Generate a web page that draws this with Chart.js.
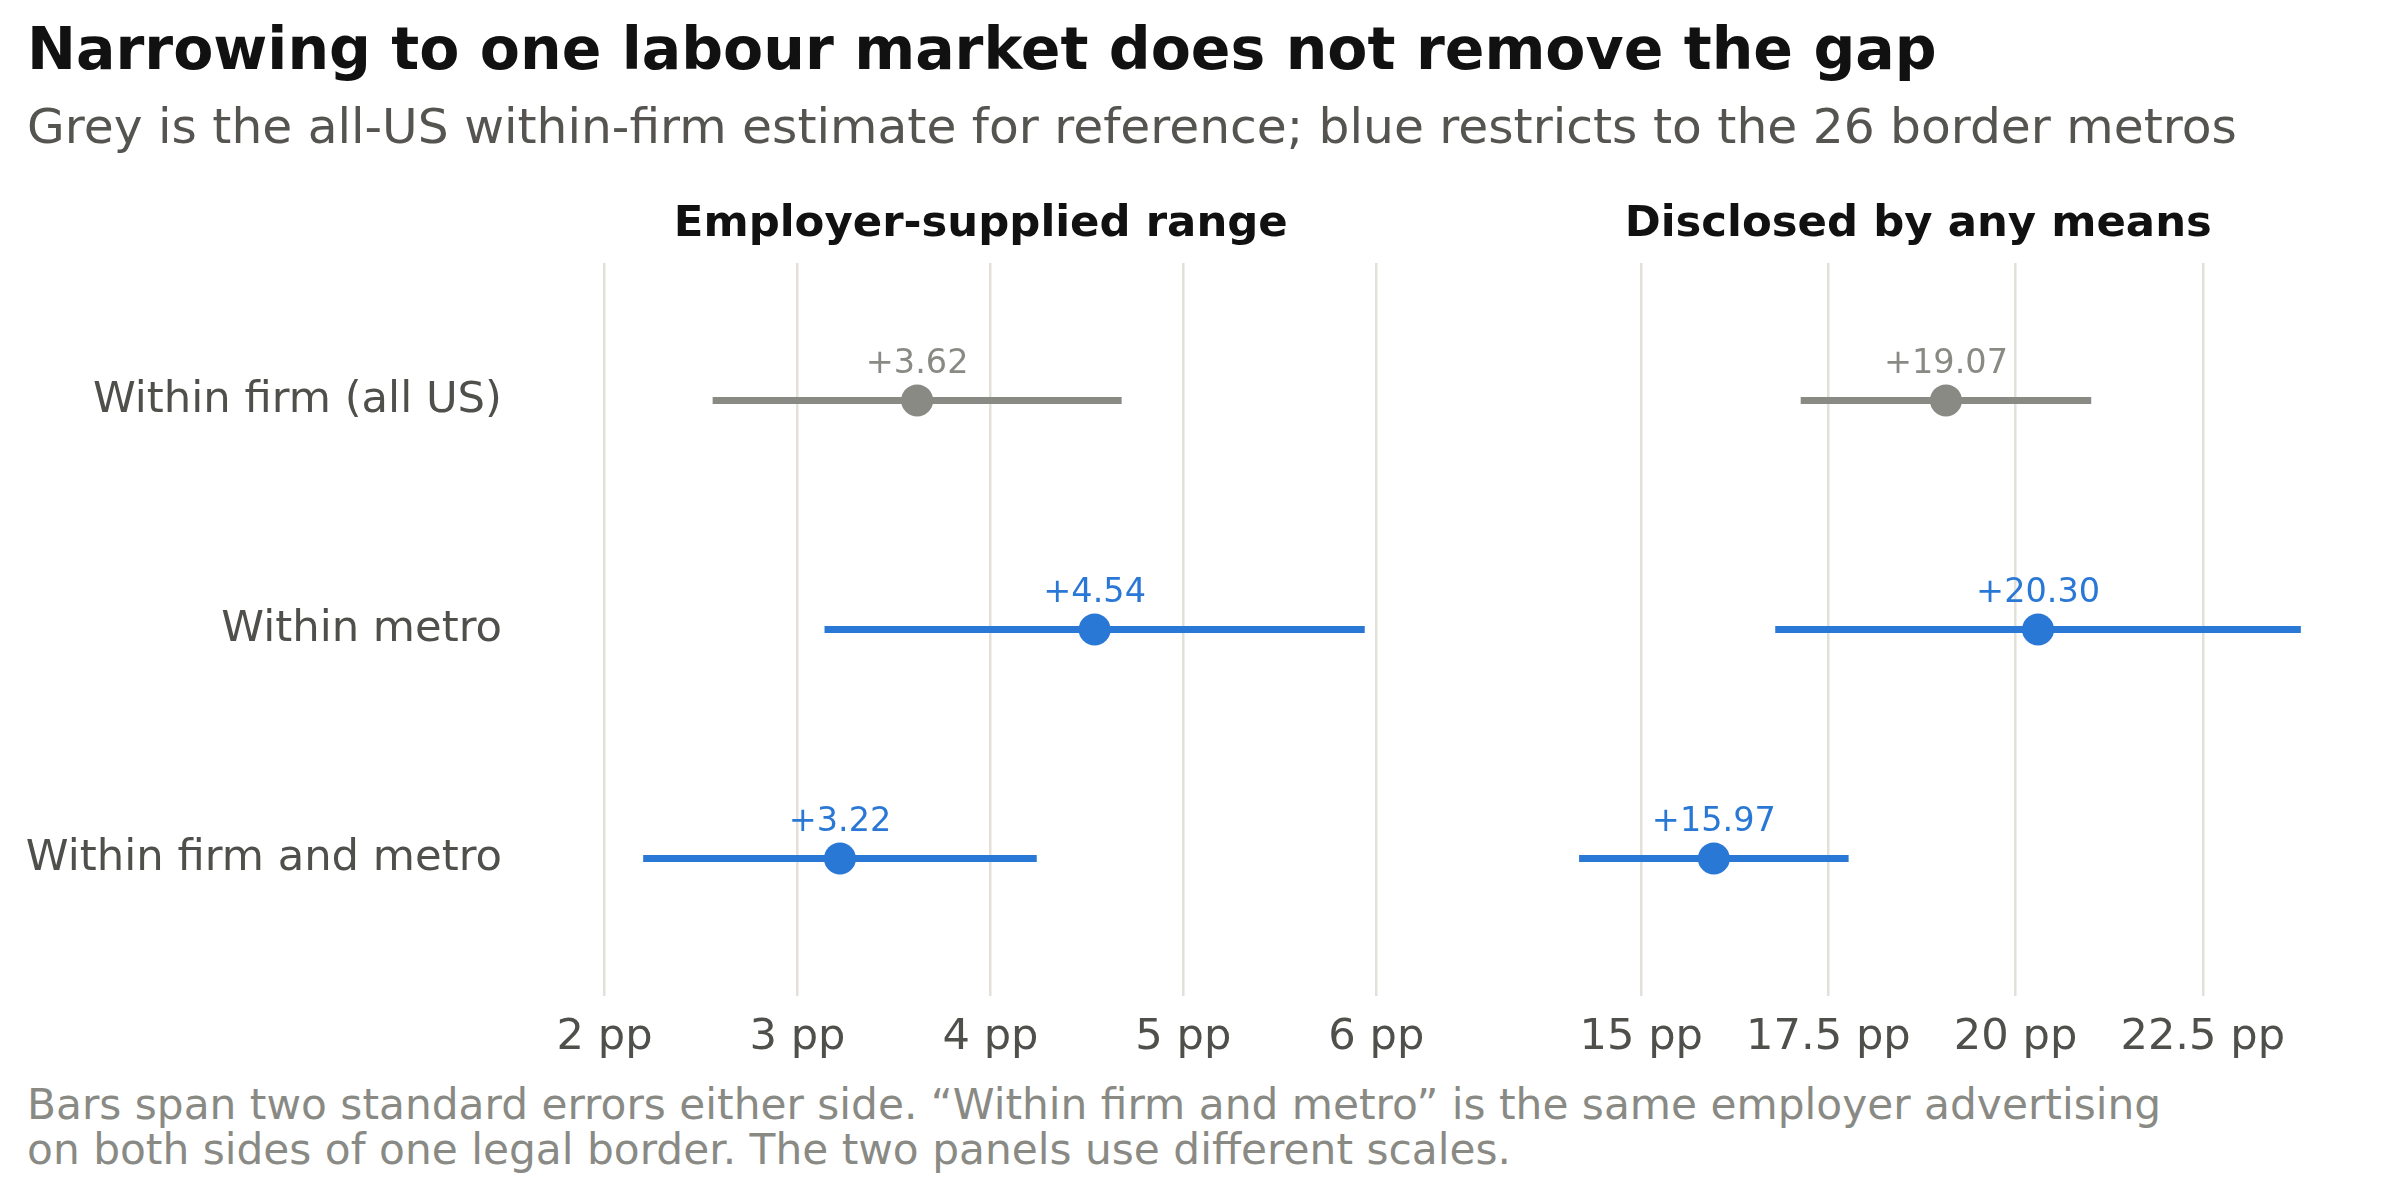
<!DOCTYPE html>
<html>
<head>
<meta charset="utf-8">
<script src="https://cdn.jsdelivr.net/npm/chart.js@4.4.1/dist/chart.umd.min.js"></script>
<style>
  body { margin: 0; background: #fff; font-family: 'DejaVu Sans', sans-serif; }
  #page { position: relative; width: 2400px; height: 1200px; overflow: hidden; }
  .txt { position: absolute; left: 27px; white-space: nowrap; }
  #title { top: 20px; font-size: 58.5px; line-height: 1; font-weight: bold; color: #111; }
  #subtitle { top: 102px; font-size: 48.7px; line-height: 1; color: #555450; }
  #note { top: 1082px; font-size: 42.3px; line-height: 45px; color: #8a8a85; }
  canvas { position: absolute; top: 196px; }
</style>
</head>
<body>
<div id="page">
  <div id="title" class="txt">Narrowing to one labour market does not remove the gap</div>
  <div id="subtitle" class="txt">Grey is the all-US within-firm estimate for reference; blue restricts to the 26 border metros</div>
  <canvas id="leftChart" width="1460" height="870" style="left:0"></canvas>
  <canvas id="rightChart" width="940" height="870" style="left:1460px"></canvas>
  <div id="note" class="txt">Bars span two standard errors either side. “Within firm and metro” is the same employer advertising<br>on both sides of one legal border. The two panels use different scales.</div>
</div>
<script>
const categories = ['Within firm (all US)', 'Within metro', 'Within firm and metro'];
const rowColors = ['#8a8a85', '#2a78d6', '#2a78d6'];

// Employer-supplied range (pp)
const rangeEst = [3.62, 4.54, 3.22];
const rangeLo = [2.56, 3.14, 2.20];
const rangeHi = [4.68, 5.94, 4.24];
const rangeTicks = [2, 3, 4, 5, 6];

// Disclosed by any means (pp)
const anyEst = [19.07, 20.30, 15.97];
const anyLo = [17.13, 16.79, 14.17];
const anyHi = [21.01, 23.81, 17.77];
const anyTicks = [15, 17.5, 20, 22.5];

const gridColor = '#e2e0d9';
const tickColor = '#4f4f4b';

const valueLabels = {
  id: 'valueLabels',
  afterDatasetsDraw(chart, args, opts) {
    const { ctx, scales: { x, y } } = chart;
    ctx.save();
    ctx.font = '33.5px "DejaVu Sans"';
    ctx.textAlign = 'center';
    ctx.textBaseline = 'middle';
    opts.values.forEach((v, i) => {
      ctx.fillStyle = rowColors[i];
      ctx.fillText('+' + v.toFixed(2), x.getPixelForValue(v), y.getPixelForValue(i) - 36);
    });
    ctx.restore();
  }
};

const makePanel = (canvasId, title, est, lo, hi, ticks, xMin, xMax, showLabels, padding) => {
  const bars = categories.map((c, i) => ({
    type: 'line',
    data: [{ x: lo[i], y: i }, { x: hi[i], y: i }],
    borderColor: rowColors[i],
    borderWidth: 7,
    borderCapStyle: 'butt',
    pointRadius: 0,
    order: 1
  }));
  const points = {
    type: 'scatter',
    data: est.map((v, i) => ({ x: v, y: i })),
    pointRadius: 16,
    pointHoverRadius: 16,
    pointBorderWidth: 0,
    pointBackgroundColor: rowColors,
    order: 0
  };

  return new Chart(document.getElementById(canvasId), {
    type: 'scatter',
    data: { datasets: [points, ...bars] },
    options: {
      responsive: false,
      animation: false,
      clip: false,
      layout: { padding },
      plugins: {
        legend: { display: false },
        tooltip: { enabled: false },
        title: {
          display: true,
          text: title,
          fullSize: false,
          color: '#111',
          font: { family: 'DejaVu Sans', size: 43.4, weight: 'bold', lineHeight: 1.2 },
          padding: { top: 3, bottom: 11.9 }
        },
        valueLabels: { values: est }
      },
      scales: {
        x: {
          type: 'linear',
          min: xMin,
          max: xMax,
          afterBuildTicks: (axis) => { axis.ticks = ticks.map(v => ({ value: v })); },
          afterFit: (axis) => { axis.height = 70; },
          grid: { color: gridColor, lineWidth: 2.5, drawTicks: false },
          border: { display: false },
          ticks: {
            padding: 16,
            color: tickColor,
            font: { family: 'DejaVu Sans', size: 43.2 },
            callback: (v) => v + ' pp'
          }
        },
        y: {
          type: 'linear',
          reverse: true,
          min: -0.6,
          max: 2.6,
          display: showLabels,
          afterBuildTicks: (axis) => { axis.ticks = categories.map((c, i) => ({ value: i })); },
          afterFit: (axis) => {
            axis.paddingTop = 0;
            axis.paddingBottom = 0;
            if (showLabels) axis.width = 566;
          },
          grid: { display: false, drawTicks: false },
          border: { display: false },
          ticks: {
            padding: 64,
            color: tickColor,
            font: { family: 'DejaVu Sans', size: 43.3 },
            callback: (v) => categories[v]
          }
        }
      }
    },
    plugins: [valueLabels]
  });
};

makePanel('leftChart', 'Employer-supplied range', rangeEst, rangeLo, rangeHi, rangeTicks,
  1.8, 6.1, true, { top: 0, right: 64.4, bottom: 0, left: 0 });
makePanel('rightChart', 'Disclosed by any means', anyEst, anyLo, anyHi, anyTicks,
  13.58, 23.82, false, { top: 0, right: 98.4, bottom: 0, left: 74.9 });
</script>
</body>
</html>
